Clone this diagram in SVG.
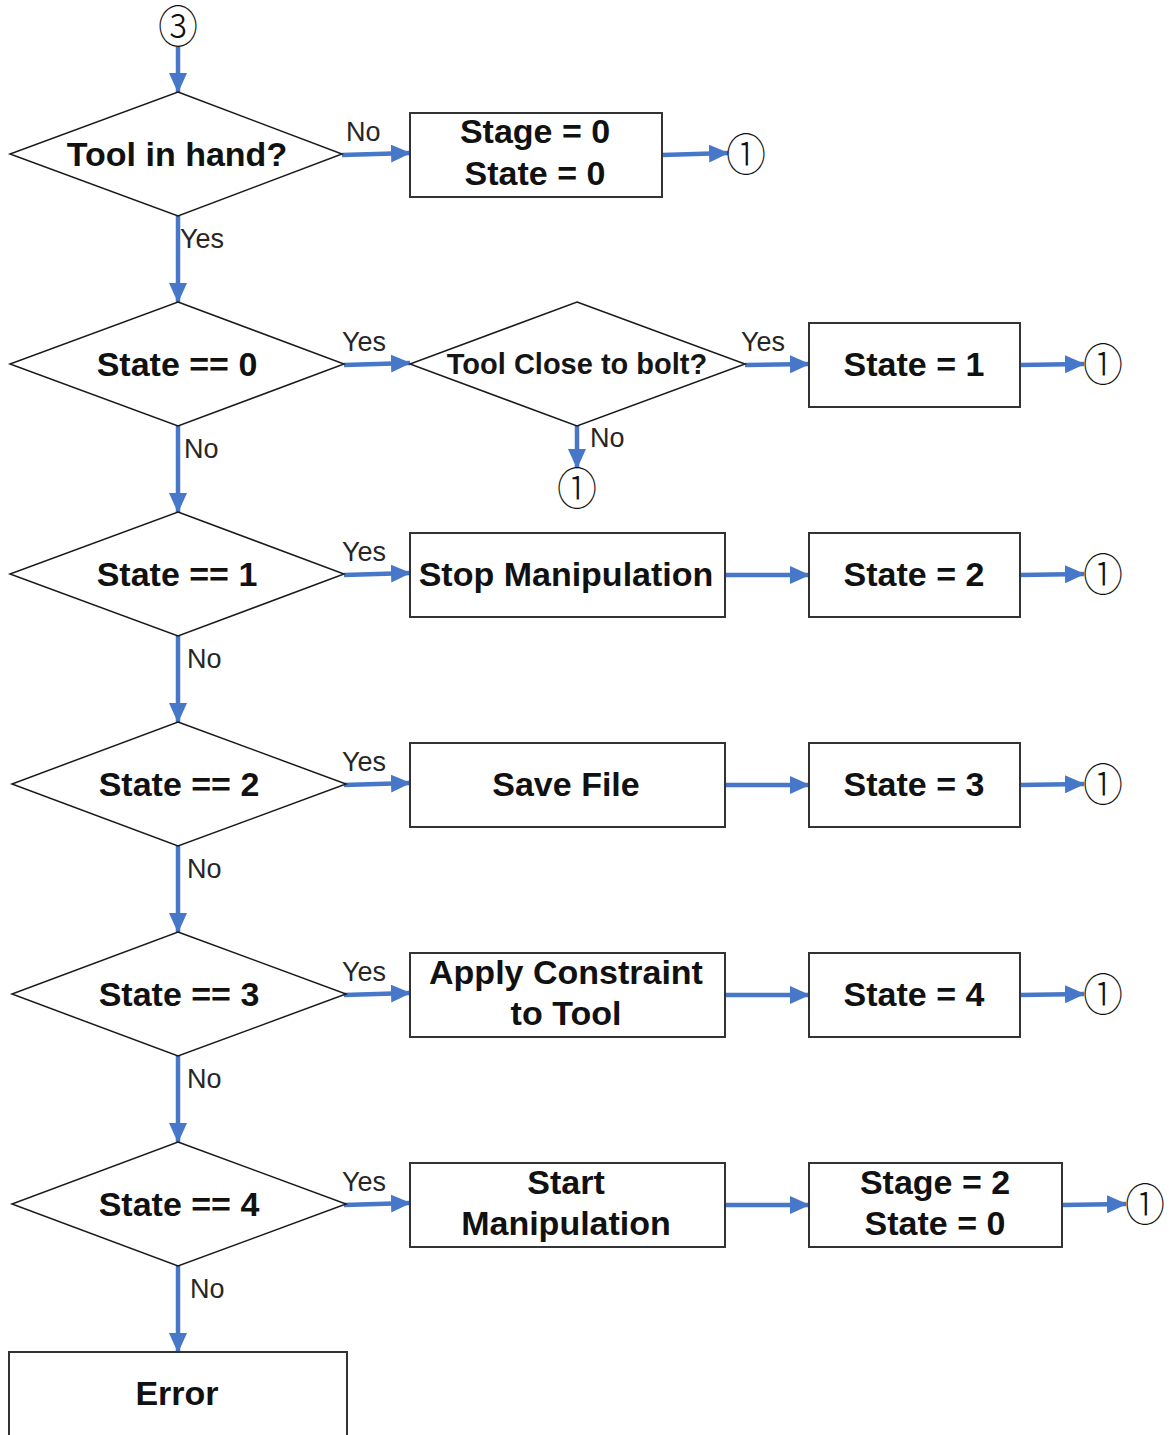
<svg xmlns="http://www.w3.org/2000/svg" width="1172" height="1435" viewBox="0 0 1172 1435">
  <style>
    .dia { fill: #ffffff; stroke: #1a1a1a; stroke-width: 1.5; }
    .box { fill: #ffffff; stroke: #333333; stroke-width: 2; }
    .t { font-family: "Liberation Sans", Arial, sans-serif; font-weight: bold; font-size: 34px; fill: #111111; text-anchor: middle; }
    .ts { font-family: "Liberation Sans", Arial, sans-serif; font-weight: bold; font-size: 29px; fill: #151515; text-anchor: middle; }
    .lbl { font-family: "Liberation Sans", Arial, sans-serif; font-size: 27px; fill: #262626; }
    .circ { font-family: "Noto Sans CJK SC", "DejaVu Sans", sans-serif; font-size: 40px; font-weight: 300; fill: #111111; text-anchor: middle; }
    .arr { stroke: #4677c8; stroke-width: 4.5; fill: none; marker-end: url(#ah); }
  </style>
  <defs>
    <marker id="ah" markerUnits="userSpaceOnUse" markerWidth="20" markerHeight="18" refX="19" refY="9" orient="auto">
      <path d="M0,0 L20,9 L0,18 Z" fill="#4677c8"/>
    </marker>
  </defs>
  <rect width="1172" height="1435" fill="#ffffff"/>

  <!-- connectors -->
  <g id="connectors">
    <line class="arr" x1="178" y1="47" x2="178" y2="92"/>
    <line class="arr" x1="342" y1="155" x2="410" y2="153"/>
    <line class="arr" x1="662" y1="155" x2="728" y2="153"/>
    <line class="arr" x1="178" y1="216" x2="178" y2="302"/>

    <line class="arr" x1="344" y1="365" x2="410" y2="363"/>
    <line class="arr" x1="745" y1="365" x2="809" y2="364"/>
    <line class="arr" x1="1020" y1="365" x2="1084" y2="364"/>
    <line class="arr" x1="577" y1="426" x2="577" y2="468"/>
    <line class="arr" x1="178" y1="426" x2="178" y2="512"/>

    <line class="arr" x1="344" y1="575" x2="410" y2="573"/>
    <line class="arr" x1="725" y1="575" x2="809" y2="575"/>
    <line class="arr" x1="1020" y1="575" x2="1084" y2="574"/>
    <line class="arr" x1="178" y1="636" x2="178" y2="722"/>

    <line class="arr" x1="344" y1="785" x2="410" y2="783"/>
    <line class="arr" x1="725" y1="785" x2="809" y2="785"/>
    <line class="arr" x1="1020" y1="785" x2="1084" y2="784"/>
    <line class="arr" x1="178" y1="846" x2="178" y2="932"/>

    <line class="arr" x1="344" y1="995" x2="410" y2="993"/>
    <line class="arr" x1="725" y1="995" x2="809" y2="995"/>
    <line class="arr" x1="1020" y1="995" x2="1084" y2="994"/>
    <line class="arr" x1="178" y1="1056" x2="178" y2="1142"/>

    <line class="arr" x1="344" y1="1205" x2="410" y2="1203"/>
    <line class="arr" x1="725" y1="1205" x2="809" y2="1205"/>
    <line class="arr" x1="1062" y1="1205" x2="1126" y2="1204"/>
    <line class="arr" x1="178" y1="1266" x2="178" y2="1352"/>

    <text class="lbl" x="346" y="141">No</text>
    <text class="lbl" x="180" y="248">Yes</text>
    <text class="lbl" x="342" y="351">Yes</text>
    <text class="lbl" x="741" y="351">Yes</text>
    <text class="lbl" x="590" y="447">No</text>
    <text class="lbl" x="184" y="458">No</text>
    <text class="lbl" x="342" y="561">Yes</text>
    <text class="lbl" x="187" y="668">No</text>
    <text class="lbl" x="342" y="771">Yes</text>
    <text class="lbl" x="187" y="878">No</text>
    <text class="lbl" x="342" y="981">Yes</text>
    <text class="lbl" x="187" y="1088">No</text>
    <text class="lbl" x="342" y="1191">Yes</text>
    <text class="lbl" x="190" y="1298">No</text>
  </g>

  <!-- off-page connectors (glyphs stretched slightly taller) -->
  <g id="ref-in"><text class="circ" transform="translate(178,28) scale(1,1.1)" y="14">③</text></g>
  <g id="ref-out-0"><text class="circ" transform="translate(746,154) scale(1,1.12)" y="15">①</text></g>
  <g id="ref-out-1"><text class="circ" transform="translate(1103,364) scale(1,1.12)" y="15">①</text></g>
  <g id="ref-out-1b"><text class="circ" transform="translate(577,488) scale(1,1.12)" y="15">①</text></g>
  <g id="ref-out-2"><text class="circ" transform="translate(1103,574) scale(1,1.12)" y="15">①</text></g>
  <g id="ref-out-3"><text class="circ" transform="translate(1103,784) scale(1,1.12)" y="15">①</text></g>
  <g id="ref-out-4"><text class="circ" transform="translate(1103,994) scale(1,1.12)" y="15">①</text></g>
  <g id="ref-out-5"><text class="circ" transform="translate(1145,1204) scale(1,1.12)" y="15">①</text></g>

  <!-- decisions -->
  <g id="tool-in-hand">
    <polygon class="dia" points="178,92 342,154 178,216 10,154"/>
    <text class="t" x="177" y="166">Tool in hand?</text>
  </g>
  <g id="state-eq-0">
    <polygon class="dia" points="178,302 344,364 178,426 10,364"/>
    <text class="t" x="177" y="376">State == 0</text>
  </g>
  <g id="tool-close">
    <polygon class="dia" points="577,302 745,364 577,426 410,364"/>
    <text class="ts" x="577" y="374">Tool Close to bolt?</text>
  </g>
  <g id="state-eq-1">
    <polygon class="dia" points="178,512 344,574 178,636 10,574"/>
    <text class="t" x="177" y="586">State == 1</text>
  </g>
  <g id="state-eq-2">
    <polygon class="dia" points="178,722 346,784 178,846 12,784"/>
    <text class="t" x="179" y="796">State == 2</text>
  </g>
  <g id="state-eq-3">
    <polygon class="dia" points="178,932 346,994 178,1056 12,994"/>
    <text class="t" x="179" y="1006">State == 3</text>
  </g>
  <g id="state-eq-4">
    <polygon class="dia" points="178,1142 346,1204 178,1266 12,1204"/>
    <text class="t" x="179" y="1216">State == 4</text>
  </g>

  <!-- actions -->
  <g id="reset-stage0">
    <rect class="box" x="410" y="113" width="252" height="84"/>
    <text class="t" x="535" y="143">Stage = 0</text>
    <text class="t" x="535" y="185">State = 0</text>
  </g>
  <g id="set-state1">
    <rect class="box" x="809" y="323" width="211" height="84"/>
    <text class="t" x="914" y="376">State = 1</text>
  </g>
  <g id="stop-manip">
    <rect class="box" x="410" y="533" width="315" height="84"/>
    <text class="t" x="566" y="586">Stop Manipulation</text>
  </g>
  <g id="set-state2">
    <rect class="box" x="809" y="533" width="211" height="84"/>
    <text class="t" x="914" y="586">State = 2</text>
  </g>
  <g id="save-file">
    <rect class="box" x="410" y="743" width="315" height="84"/>
    <text class="t" x="566" y="796">Save File</text>
  </g>
  <g id="set-state3">
    <rect class="box" x="809" y="743" width="211" height="84"/>
    <text class="t" x="914" y="796">State = 3</text>
  </g>
  <g id="apply-constraint">
    <rect class="box" x="410" y="953" width="315" height="84"/>
    <text class="t" x="566" y="984">Apply Constraint</text>
    <text class="t" x="566" y="1025">to Tool</text>
  </g>
  <g id="set-state4">
    <rect class="box" x="809" y="953" width="211" height="84"/>
    <text class="t" x="914" y="1006">State = 4</text>
  </g>
  <g id="start-manip">
    <rect class="box" x="410" y="1163" width="315" height="84"/>
    <text class="t" x="566" y="1194">Start</text>
    <text class="t" x="566" y="1235">Manipulation</text>
  </g>
  <g id="stage2-state0">
    <rect class="box" x="809" y="1163" width="253" height="84"/>
    <text class="t" x="935" y="1194">Stage = 2</text>
    <text class="t" x="935" y="1235">State = 0</text>
  </g>
  <g id="error">
    <rect class="box" x="9" y="1352" width="338" height="100"/>
    <text class="t" x="177" y="1405">Error</text>
  </g>
</svg>
